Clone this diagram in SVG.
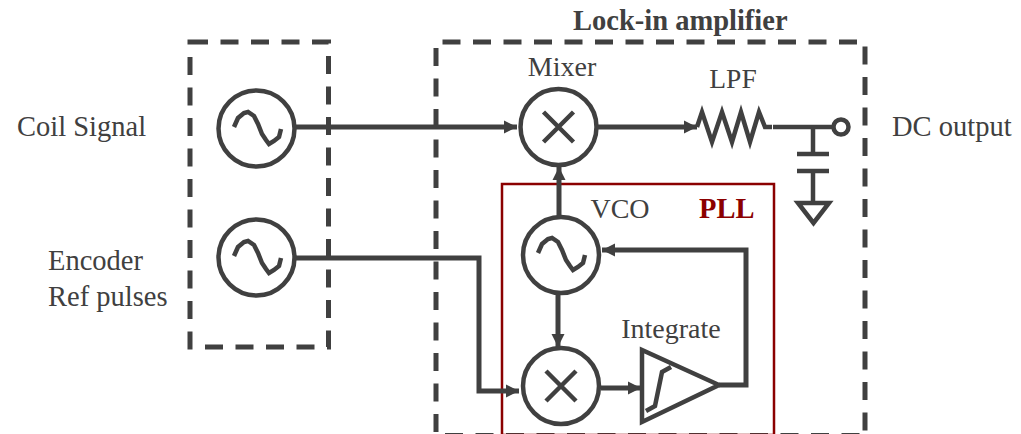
<svg xmlns="http://www.w3.org/2000/svg" width="1021" height="434" viewBox="0 0 1021 434">
<style>
text{font-family:"Liberation Serif","Times New Roman",serif;font-size:28.5px;fill:#404040}
.c{text-anchor:middle}
.b{font-weight:bold}
.d{fill:none;stroke:#404040;stroke-width:5;stroke-dasharray:18 12.5}
.n{fill:none;stroke:#404040;stroke-width:4.5}
.w{fill:none;stroke:#404040;stroke-width:5}
</style>
<defs>
<marker id="a" markerUnits="userSpaceOnUse" markerWidth="14" markerHeight="14" refX="13" refY="7" orient="auto"><path d="M0 0.500L13 7L0 13.500Z" fill="#404040"/></marker>
<g id="sine"><path class="n" d="M-23 -1L-19 -10L-13 -15L-9 -16L-3 -12L1 -4L5 6L9 12L12 16L17 13L22 9L24 1"/></g>
<g id="cross"><path class="n" d="M-15 -15L15 15M15 -15L-15 15"/></g>
</defs>
<rect width="1021" height="434" fill="#fff"/>
<g id="box-source"><path class="d" d="M190 42H328.500V347H190Z"/></g>
<g id="box-lockin"><path class="d" d="M436 432V42H865V434"/><path class="d" d="M445 435.500H865"/><text class="b" x="573" y="30">Lock-in amplifier</text></g>
<g id="box-pll"><rect x="502" y="184" width="272" height="251" fill="none" stroke="#8b0000" stroke-width="2.500"/><text class="b" x="699" y="218" style="fill:#8b0000">PLL</text></g>
<g id="connectors">
<path class="w" d="M296 127H517" marker-end="url(#a)"/>
<path class="w" d="M296 258H479V391H519" marker-end="url(#a)"/>
<path class="w" d="M598 127H697" marker-end="url(#a)"/>
<path class="w" d="M559 216V167" marker-end="url(#a)"/>
<path class="w" d="M558 294V347" marker-end="url(#a)"/>
<path class="w" d="M601 388H641" marker-end="url(#a)"/>
<path class="w" d="M719 385H746V250H602" marker-end="url(#a)"/>
</g>
<g id="src-coil"><circle class="n" cx="256.500" cy="128.500" r="38"/><use href="#sine" x="257" y="128"/></g>
<g id="src-encoder"><circle class="n" cx="256.500" cy="257.500" r="38"/><use href="#sine" x="257" y="257"/></g>
<g id="mixer"><circle class="n" cx="558.500" cy="127" r="38"/><use href="#cross" x="558.500" y="127"/><text class="c" x="562" y="76" style="font-size:28px">Mixer</text></g>
<g id="vco"><circle class="n" cx="561" cy="255" r="38"/><use href="#sine" x="561" y="254"/><text class="c" x="620" y="218" style="font-size:28px">VCO</text></g>
<g id="mixer2"><circle class="n" cx="561" cy="386" r="38"/><use href="#cross" x="561" y="386"/></g>
<g id="integrator"><path class="n" d="M642 350V422L719 385Z"/><path class="n" d="M646 411L655 406L662 372L671 367"/><text class="c" x="671" y="338" style="font-size:28px">Integrate</text></g>
<g id="lpf"><path class="n" d="M697 127L702 112L712 142L722 112L732 142L741 112L750 142L759 112L765 127H772"/><text class="c" x="733" y="88" style="font-size:27.500px">LPF</text></g>
<g id="output"><path class="n" d="M773 127H832"/><circle class="n" cx="841" cy="127" r="7.500"/><path class="n" d="M813 127V154M797 154H829M797 171H829M813 171V203M798 203H829L813.500 223Z"/></g>
<text x="17" y="136">Coil Signal</text>
<text x="48" y="270">Encoder</text>
<text x="48" y="306">Ref pulses</text>
<text x="892" y="136">DC output</text>
</svg>
